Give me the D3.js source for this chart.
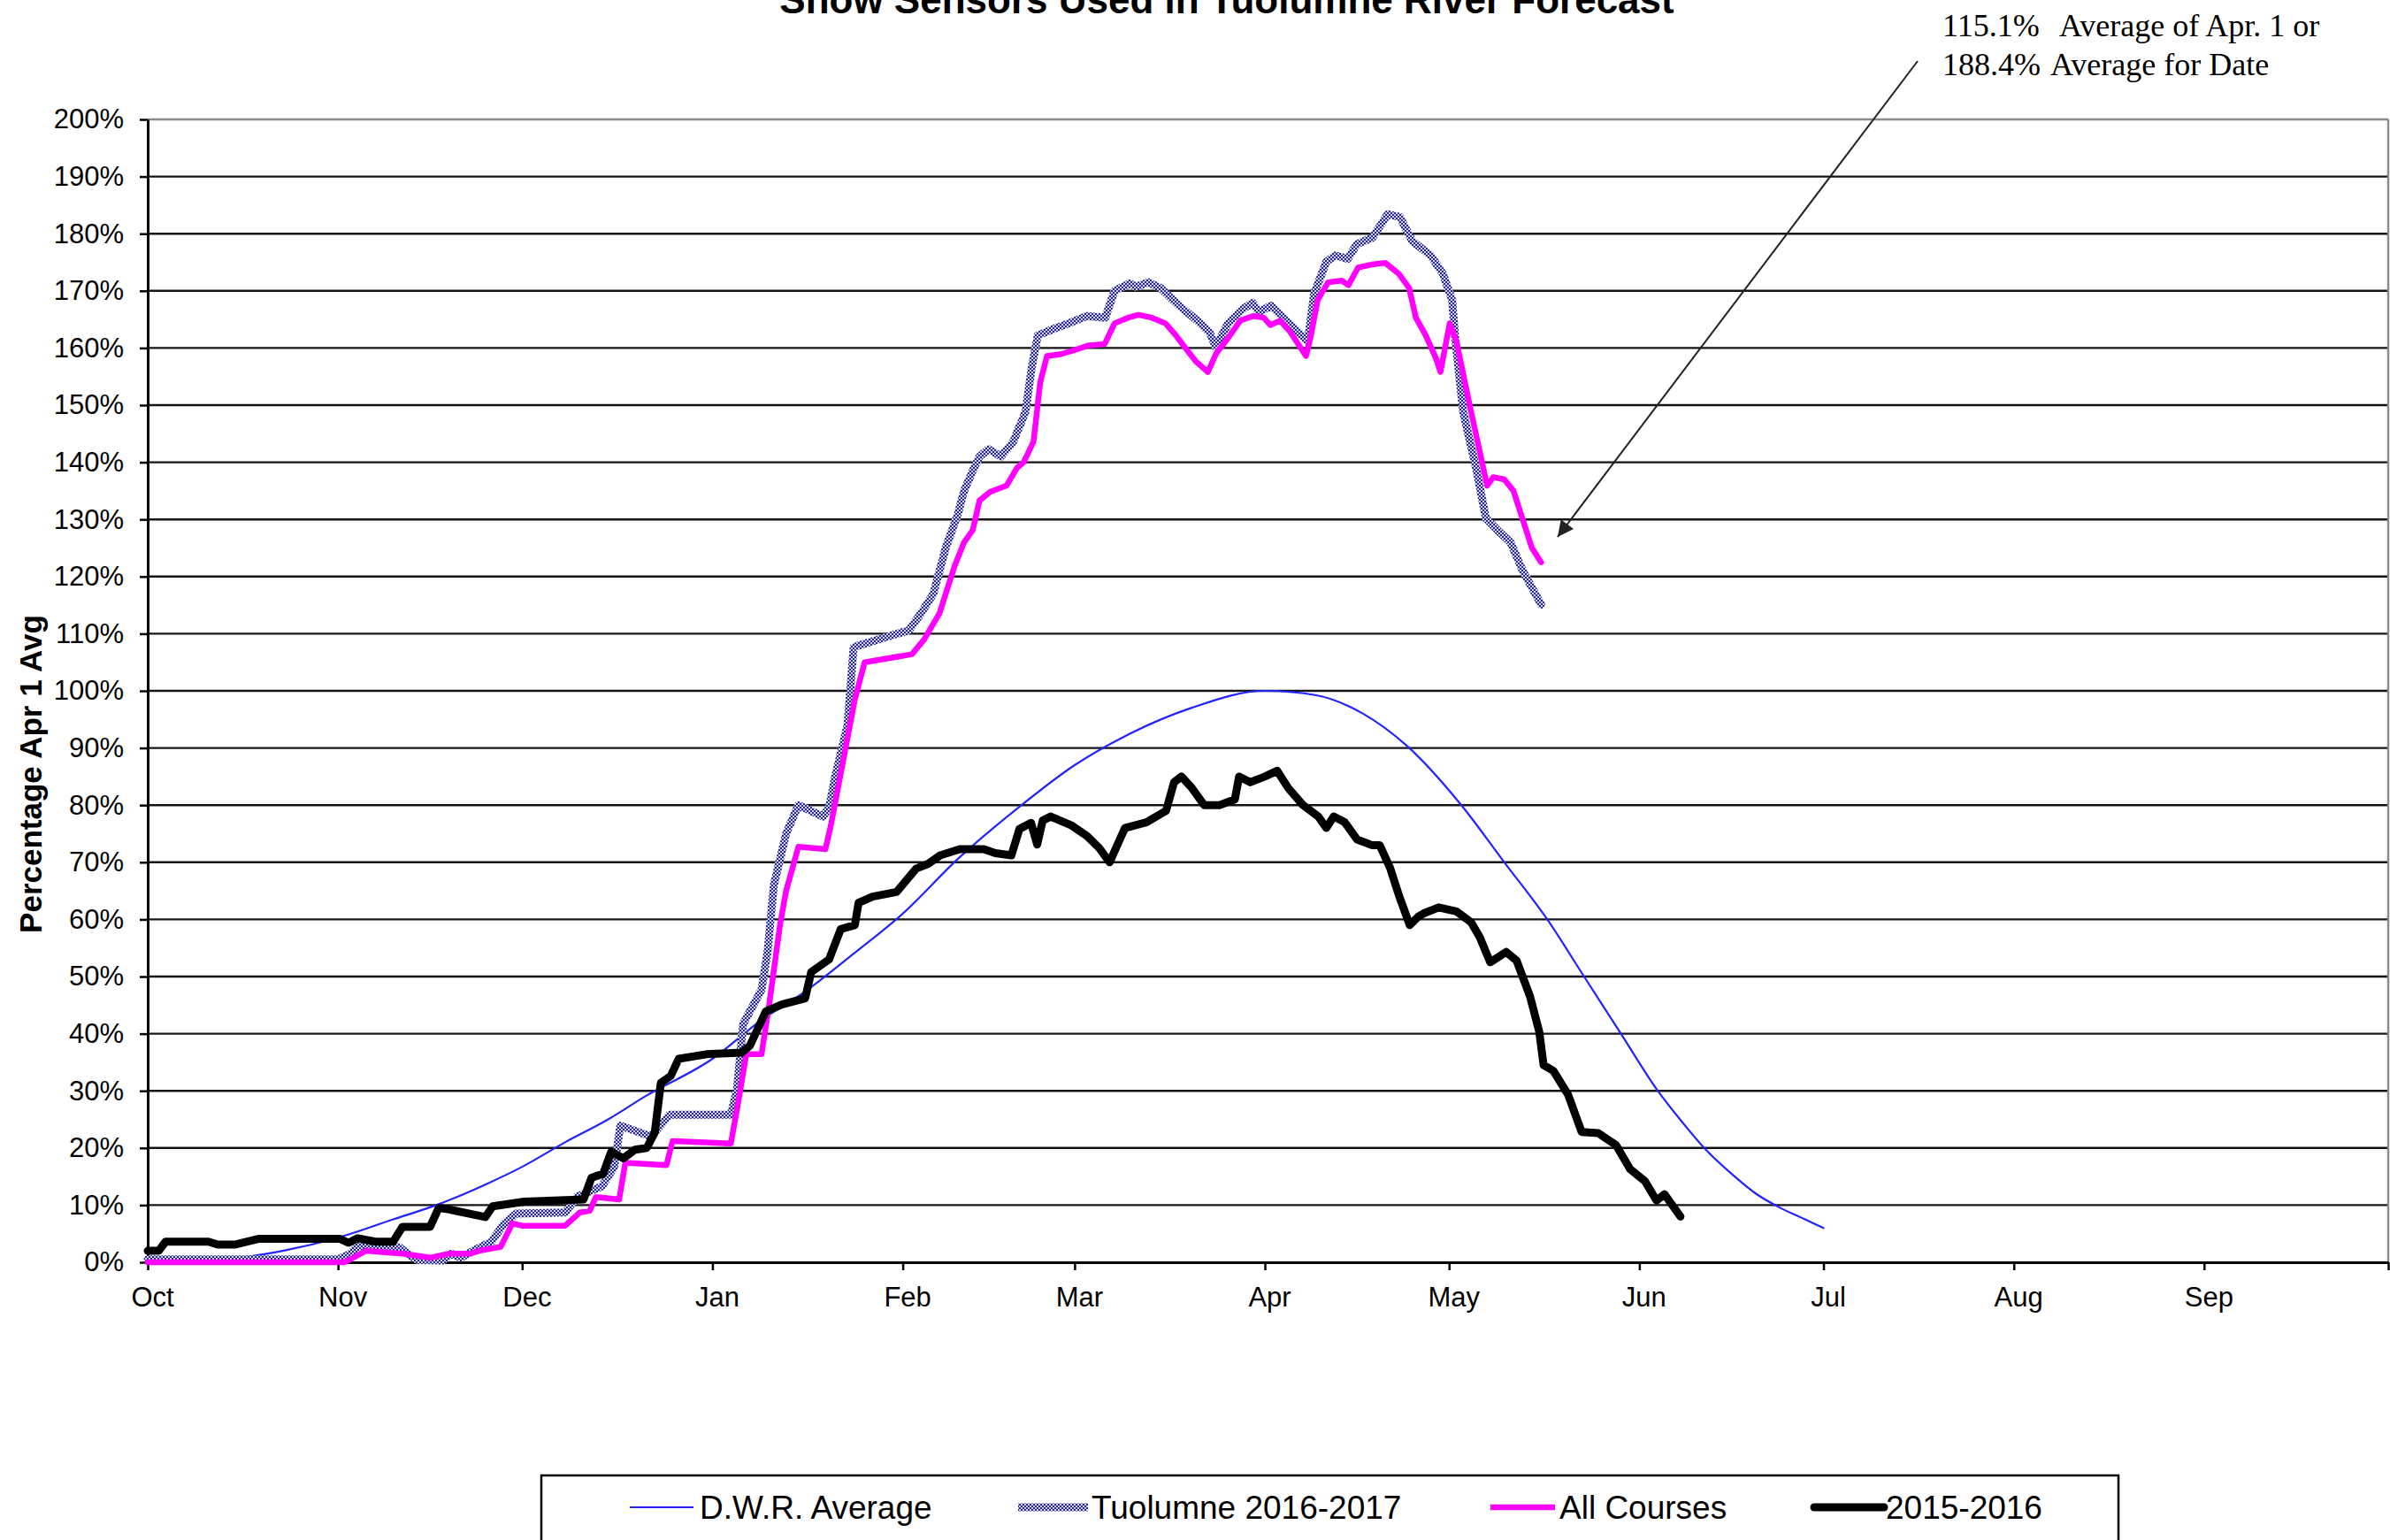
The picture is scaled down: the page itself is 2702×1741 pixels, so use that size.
<!DOCTYPE html>
<html><head><meta charset="utf-8">
<script src="https://cdn.jsdelivr.net/npm/d3@7"></script>
<style>html,body{margin:0;padding:0;background:#fff;overflow:hidden}</style>
</head><body>
<svg id="chart" width="2702" height="1741"></svg>
<script>
// ---------------- DATA ----------------
const chartTitle = "Snow Sensors Used in Tuolumne River Forecast";
const yAxisTitle = "Percentage Apr 1 Avg";
const yTickValues = [0,10,20,30,40,50,60,70,80,90,100,110,120,130,140,150,160,170,180,190,200];
const monthLabels = ["Oct","Nov","Dec","Jan","Feb","Mar","Apr","May","Jun","Jul","Aug","Sep"];
const seriesNames = ["D.W.R. Average","Tuolumne 2016-2017","All Courses","2015-2016"];
const annotationLines = [["115.1%","Average of Apr. 1 or"],["188.4%","Average for Date"]];
// days since Oct 1 of the water year, and percent of Apr 1 average
const dwrDays   = [0,8,15,22,31,40,47,55,61,68,75,81,92,100,107,115,123,132,142,151,160,170,182,190,198,205,214,221,228,234,240,246,250,254,258,262,266,270,273];
const dwrValues = [0,0.2,0.8,2,4.3,7.5,10,13.6,16.7,21,25,29,35.6,42.4,47.3,54,61,70.6,79.7,87,92.5,97,100,99.3,96,90.5,80,70,60,50,40,30,24.5,19.5,15.5,12,9.5,7.5,6];

const tuolDays   = [0,31,33,34,36,41,43,44,48,49.5,51,53,56,58,60,68,70,74,76,77,82,85,95,96,97,100,101,102,104,106,110,111,112,114,115,116,124,126,128,130,132,133,134.4,135.5,137,139,141,142,143,144,145,148,150,153,156,157.5,160,161,163,165,168,171,173,174,176,178.5,180,181,183,185.5,188,189,190,192,193.5,195.5,197,199.5,202,204,206,209,211,212.5,213,214.3,216.5,218,220,222,224,227];
const tuolValues = [0.5,0.5,1.5,2.6,3.1,2.6,1,0.4,0.3,1.5,0.8,2,3.6,6.7,8.5,8.7,11.5,13.3,16.7,23.9,22,25.8,25.8,30.3,41.7,47.7,54.5,66,75,80,78,79.5,85,94,107.6,108,110.6,113.6,117,125,131,135,138.5,141,142.3,141,143.6,146.2,148.8,156.5,162.2,163.5,164.3,165.6,165.3,170,171.3,170.7,171.5,170.5,167.4,164.8,162.7,160.2,164.3,166.9,167.9,166.3,167.4,164.8,162.2,161.2,169.4,175.1,176.2,175.6,178.2,179.3,183.4,182.9,178.7,176.2,173,168.4,161.7,148.8,138.5,130.2,128,126,121,115.1];

const allDays   = [0,32,33,35.5,41.5,46,49,52.5,54,57.5,59.4,61,68,70.4,72,73,76.8,77.8,84.5,85.5,95,96.2,97.5,100,101.3,103,104,106,110.4,111.3,115.2,116.8,124.5,126.5,129,130,131.5,133,134.4,135.5,137.2,139.9,141.6,142.7,144.3,145.4,146.5,148.7,150.9,153.1,155.9,157.5,159.7,161.4,163.6,165.8,167.5,169.7,170.8,172.7,174.1,176.3,178,180.1,181.8,182.9,184.5,186.2,188.7,189.5,190.6,192.3,194.5,195.6,197.2,199.4,201.6,203.8,205.5,206.6,208.2,209.9,210.6,212.1,213.2,215.4,218.2,219.2,221,222.5,224,225.5,227];
const allValues = [0,0,0.5,2,1.5,0.8,1.5,1.5,2,2.7,6.8,6.4,6.4,8.7,9,11.4,11,17.4,17,21.2,20.8,28,36.4,36.4,45.5,59,65,72.7,72.3,76.5,98.5,105,106.4,109,113.6,117,122,126,128.1,133.3,134.8,135.9,139,140,143.6,154,158.6,158.9,159.6,160.4,160.7,164.3,165.3,165.8,165.3,164.3,162.2,159.1,157.6,155.8,159.1,162.2,164.8,165.6,165.3,164,164.8,162.7,158.6,162.2,168.4,171.5,171.8,171,174.1,174.6,174.9,173,170.5,165.3,162.2,158.1,155.8,164.3,161.2,149.8,135.9,137.4,137,135,130,125,122.5];

const prevDays   = [0,1.8,2.9,9.9,11.4,14.3,18,31.3,32.7,34.2,37.1,40,41.5,46,47.4,48.9,55,56.2,61.3,71,72.3,74.2,75.5,77.5,79.4,81.3,82.6,83.6,85.2,86.5,91,96.8,98.1,100.7,103.3,107.1,108.1,111,112.9,115.2,115.8,118.1,122,125.2,127.1,129.1,132.3,136.2,138.1,140.7,142,143.9,144.9,145.8,147.1,150.4,153,155,156.7,159.2,162.7,165.9,167.2,168.4,170.1,172.1,174.6,177.1,177.8,179.6,182,184,185.8,188.2,190.7,192,193.2,195,197,199.4,200.7,202.4,203.9,205.6,207,208,210.3,213.2,215.6,217,218.7,221.3,223,225.2,226.7,227.4,229,231.4,233.6,236.3,239.2,241.5,243.9,245.8,247.1,249.7];
const prevValues = [2,2,3.6,3.6,3.1,3.1,4.1,4.1,3.4,4.2,3.6,3.6,6.2,6.2,9.5,9.3,7.9,9.8,10.6,11,14.8,15.5,19.3,18.2,19.7,20,22.7,31.4,32.6,35.6,36.4,36.7,37.9,43.9,45.1,46.2,50.8,53,58.3,59,62.9,64,64.8,68.9,69.7,71.2,72.3,72.3,71.6,71.2,75.8,76.9,73.1,77.3,78,76.5,74.6,72.5,70,76,77,79,84,85,83,80,80,81,85,84,85,86,83,80,78,76,78,77,74,73,73,69,64,59,60.5,61.1,62.1,61.4,59.5,56.9,52.5,54.3,52.8,46.5,40.3,34.5,33.5,29.3,22.8,22.6,20.5,16.3,14.2,10.8,11.9,8];

// ---------------- CHART ----------------
const svg = d3.select("#chart");
const sans = "'Liberation Sans', Arial, sans-serif";
const serif = "'Liberation Serif', 'Times New Roman', serif";
const start = new Date(Date.UTC(2016, 9, 1));
const end = new Date(Date.UTC(2017, 9, 1));
const toDate = d => new Date(+start + d * 864e5);

const m = {left: 167, right: 2700, top: 135, bottom: 1427};
const x = d3.scaleUtc().domain([start, end]).range([m.left, m.right]);
const y = d3.scaleLinear().domain([0, 200]).range([m.bottom, m.top]);

const defs = svg.append("defs");
const pat = defs.append("pattern").attr("id","tuolPat").attr("patternUnits","userSpaceOnUse").attr("width",4).attr("height",4);
pat.append("rect").attr("width",4).attr("height",4).attr("fill","#cfcff0");
pat.append("rect").attr("width",2).attr("height",2).attr("fill","#2a2a88");
pat.append("rect").attr("x",2).attr("y",2).attr("width",2).attr("height",2).attr("fill","#2a2a88");
defs.append("marker").attr("id","arr").attr("viewBox","0 0 10 10").attr("refX",10).attr("refY",5)
  .attr("markerWidth",24).attr("markerHeight",18).attr("markerUnits","userSpaceOnUse").attr("orient","auto")
  .append("path").attr("d","M0,0 L10,5 L0,10 z").attr("fill","#222");

// gridlines
svg.append("g").selectAll("line").data(yTickValues.filter(v => v > 0)).join("line")
  .attr("x1", m.left).attr("x2", m.right).attr("y1", d => y(d)).attr("y2", d => y(d))
  .attr("stroke", d => d === 200 ? "#8a8a8a" : "#141414").attr("stroke-width", 2.4);
// right border
svg.append("line").attr("x1", m.right).attr("x2", m.right).attr("y1", m.top).attr("y2", m.bottom)
  .attr("stroke", "#8a8a8a").attr("stroke-width", 2.4);

// y axis
const yAxis = svg.append("g").attr("transform", `translate(${m.left},0)`)
  .call(d3.axisLeft(y).tickValues(yTickValues).tickSize(9).tickSizeOuter(0).tickPadding(18).tickFormat(d => d + "%"));
yAxis.select(".domain").attr("stroke", "#000").attr("stroke-width", 3);
yAxis.selectAll(".tick line").attr("stroke", "#000").attr("stroke-width", 2.5);
yAxis.selectAll("text").attr("font-family", sans).attr("font-size", 31).attr("fill", "#000");

// x axis
const monthTicks = d3.utcMonth.range(start, d3.utcDay.offset(end, 1));
const xAxis = svg.append("g").attr("transform", `translate(0,${m.bottom})`)
  .call(d3.axisBottom(x).tickValues(monthTicks).tickSize(9).tickSizeOuter(0).tickPadding(19)
    .tickFormat((d, i) => i < monthLabels.length ? monthLabels[i] : ""));
xAxis.select(".domain").attr("stroke", "#000").attr("stroke-width", 3);
xAxis.selectAll(".tick line").attr("stroke", "#000").attr("stroke-width", 2.5);
xAxis.selectAll("text").attr("font-family", sans).attr("font-size", 31).attr("fill", "#000").attr("dx", 5);

// series
const line = d3.line().x(d => x(toDate(d[0]))).y(d => y(d[1]));
const zip = (a, b) => a.map((d, i) => [d, b[i]]);
const series = [
  {name: seriesNames[0], data: zip(dwrDays, dwrValues), stroke: "#2323ff", width: 2.2, curve: d3.curveMonotoneX},
  {name: seriesNames[1], data: zip(tuolDays, tuolValues), stroke: "url(#tuolPat)", width: 9, curve: d3.curveLinear},
  {name: seriesNames[2], data: zip(allDays, allValues), stroke: "#ff00ff", width: 6.5, curve: d3.curveLinear},
  {name: seriesNames[3], data: zip(prevDays, prevValues), stroke: "#000", width: 9, curve: d3.curveLinear}
];
svg.append("g").selectAll("path").data(series).join("path")
  .attr("d", s => line.curve(s.curve)(s.data))
  .attr("fill", "none").attr("stroke", s => s.stroke).attr("stroke-width", s => s.width)
  .attr("stroke-linejoin", "round").attr("stroke-linecap", "round");

// title (cropped at the top, as in the reference)
svg.append("text").attr("x", 1387).attr("y", 15).attr("text-anchor", "middle")
  .attr("font-family", sans).attr("font-weight", "bold").attr("font-size", 44).text(chartTitle);

// y axis title
svg.append("text").attr("transform", "translate(34,875) rotate(-90)").attr("text-anchor", "middle")
  .attr("dominant-baseline", "central").attr("font-family", sans).attr("font-weight", "bold")
  .attr("font-size", 35).text(yAxisTitle);

// annotation
const ann = svg.append("g").attr("font-family", serif).attr("font-size", 36).attr("fill", "#000");
const annX2 = [2328, 2318];
annotationLines.forEach((l, i) => {
  ann.append("text").attr("x", 2196).attr("y", 41 + i * 44).text(l[0]);
  ann.append("text").attr("x", annX2[i]).attr("y", 41 + i * 44).text(l[1]);
});
svg.append("line").attr("x1", 2168).attr("y1", 69).attr("x2", 1761).attr("y2", 607)
  .attr("stroke", "#222").attr("stroke-width", 2).attr("marker-end", "url(#arr)");

// legend
svg.append("rect").attr("x", 612).attr("y", 1668).attr("width", 1783).attr("height", 200)
  .attr("fill", "#fff").attr("stroke", "#000").attr("stroke-width", 2.5);
const legendPos = [[712, 784, 791], [1151, 1230, 1234], [1685, 1758, 1763], [2051, 2130, 2132]];
const lg = svg.append("g");
series.forEach((s, i) => {
  const p = legendPos[i];
  lg.append("line").attr("x1", p[0]).attr("x2", p[1]).attr("y1", 1704).attr("y2", 1704)
    .attr("stroke", s.stroke).attr("stroke-width", s.width).attr("stroke-linecap", i === 3 ? "round" : "butt");
  lg.append("text").attr("x", p[2]).attr("y", 1704).attr("dominant-baseline", "central")
    .attr("font-family", sans).attr("font-size", 37).attr("fill", "#000").text(s.name);
});
</script>
</body></html>
